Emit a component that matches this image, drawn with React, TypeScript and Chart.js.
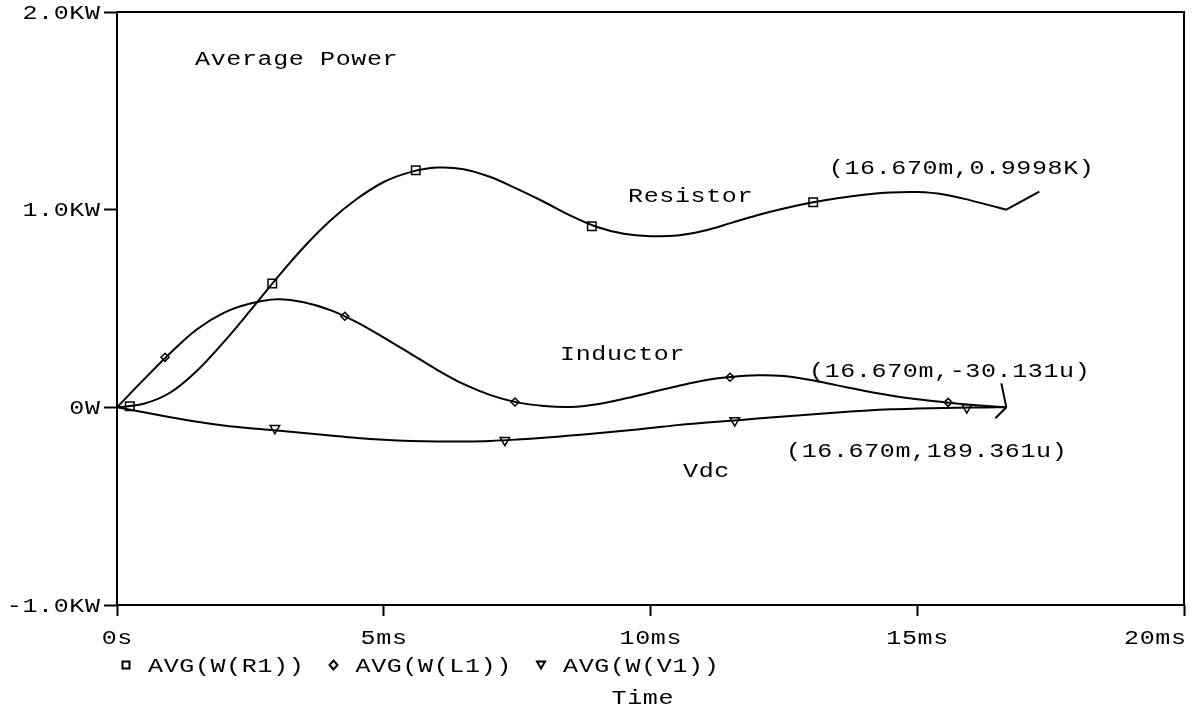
import React, { useEffect, useRef } from 'react';
import { Chart, registerables } from 'chart.js';

Chart.register(...registerables);

// Simulation time (ms) and running-average power (kW) of each element
const timeMs = [
  0, 0.5, 1, 1.5, 2, 2.5, 3, 3.5, 4, 4.5, 5, 5.5, 6, 6.5, 7, 7.5, 8, 8.5, 9, 9.5,
  10, 10.5, 11, 11.5, 12, 12.5, 13, 13.5, 14, 14.5, 15, 15.5, 16, 16.5, 16.67,
];
const resistorKW = [
  0, 0.018, 0.075, 0.185, 0.33, 0.49, 0.655, 0.81, 0.945, 1.055, 1.14, 1.19, 1.213, 1.205,
  1.165, 1.105, 1.04, 0.97, 0.912, 0.878, 0.866, 0.869, 0.893, 0.932, 0.972, 1.006, 1.035,
  1.058, 1.076, 1.087, 1.089, 1.077, 1.047, 1.012, 0.9998,
];
const inductorKW = [
  0, 0.14, 0.275, 0.395, 0.478, 0.525, 0.547, 0.532, 0.492, 0.43, 0.353, 0.272, 0.19, 0.117,
  0.062, 0.025, 0.007, 0.002, 0.016, 0.043, 0.075, 0.107, 0.136, 0.153, 0.162, 0.158, 0.138,
  0.111, 0.084, 0.06, 0.041, 0.026, 0.013, 0.003, -0.00003,
];
const sourceKW = [
  0, -0.025, -0.05, -0.073, -0.092, -0.106, -0.117, -0.13, -0.143, -0.155, -0.164, -0.17,
  -0.173, -0.173, -0.17, -0.163, -0.154, -0.143, -0.131, -0.119, -0.105, -0.09, -0.078,
  -0.068, -0.057, -0.046, -0.036, -0.026, -0.017, -0.01, -0.006, -0.003, -0.001, 0, 0.000189,
];

// Trace symbols placed along each curve
const resistorMarkT = [0.24, 2.91, 5.6, 8.9, 13.05];
const resistorMarkKW = [0.006, 0.626, 1.2, 0.916, 1.038];
const inductorMarkT = [0.9, 4.27, 7.46, 11.49, 15.58];
const inductorMarkKW = [0.253, 0.461, 0.027, 0.152, 0.025];
const sourceMarkT = [2.96, 7.27, 11.58, 15.93];
const sourceMarkKW = [-0.106, -0.166, -0.067, -0.001];

const xTickLabels = ['0s', '5ms', '10ms', '15ms', '20ms'];
const yTickLabels = ['-1.0KW', '0W', '1.0KW', '2.0KW'];
const seriesLabels = ['AVG(W(R1))', 'AVG(W(L1))', 'AVG(W(V1))'];
const traceNames = ['Resistor', 'Inductor', 'Vdc'];
const endLabels = ['(16.670m,0.9998K)', '(16.670m,-30.131u)', '(16.670m,189.361u)'];
const plotTitle = 'Average Power';
const xTitle = 'Time';

const INK = '#000000';
const FONT = '20px "Liberation Mono", "Courier New", monospace';
const SCALE_X = 1.25;
const SPACING = 0.5;

type Align = 'left' | 'center' | 'right';

function textWidth(ctx: CanvasRenderingContext2D, s: string): number {
  ctx.save();
  ctx.font = FONT;
  (ctx as any).letterSpacing = SPACING + 'px';
  const w = (ctx.measureText(s).width - SPACING) * SCALE_X;
  ctx.restore();
  return w;
}

// Monospace text, widened like a plotter font; y is the visual middle of the caps
function drawText(ctx: CanvasRenderingContext2D, s: string, x: number, y: number, align: Align) {
  const w = textWidth(ctx, s);
  const left = align === 'center' ? x - w / 2 : align === 'right' ? x - w : x;
  ctx.save();
  ctx.font = FONT;
  (ctx as any).letterSpacing = SPACING + 'px';
  ctx.fillStyle = INK;
  ctx.textAlign = 'left';
  ctx.textBaseline = 'alphabetic';
  ctx.translate(left, y + 6.5);
  ctx.scale(SCALE_X, 1);
  ctx.fillText(s, 0, 0);
  ctx.restore();
}

function drawSymbol(ctx: CanvasRenderingContext2D, kind: string, x: number, y: number) {
  ctx.save();
  ctx.strokeStyle = INK;
  ctx.lineWidth = 2;
  ctx.beginPath();
  if (kind === 'rect') {
    ctx.rect(x - 3.5, y - 3.5, 7, 7);
  } else if (kind === 'rectRot') {
    ctx.moveTo(x, y - 4.5);
    ctx.lineTo(x + 4, y);
    ctx.lineTo(x, y + 4.5);
    ctx.lineTo(x - 4, y);
    ctx.closePath();
  } else {
    ctx.moveTo(x - 4, y - 3.5);
    ctx.lineTo(x + 4, y - 3.5);
    ctx.lineTo(x, y + 3.5);
    ctx.closePath();
  }
  ctx.stroke();
  ctx.restore();
}

const pairs = (xs: number[], ys: number[]) => xs.map((x, i) => ({ x, y: ys[i] }));

const decorations = {
  id: 'probeDecorations',
  afterDraw(chart: any) {
    const ctx: CanvasRenderingContext2D = chart.ctx;
    const area = chart.chartArea;
    const xs = chart.scales.x;
    const ys = chart.scales.y;

    // plot frame
    ctx.save();
    ctx.strokeStyle = INK;
    ctx.lineWidth = 2;
    ctx.strokeRect(area.left, area.top, area.right - area.left, area.bottom - area.top);
    ctx.restore();

    // axis tick labels
    ys.ticks.forEach((t: any, i: number) => {
      drawText(ctx, yTickLabels[i], area.left - 17, ys.getPixelForValue(t.value), 'right');
    });
    const canvasW = chart.width;
    xs.ticks.forEach((t: any, i: number) => {
      const s = xTickLabels[i];
      const w = textWidth(ctx, s);
      let cx = xs.getPixelForValue(t.value);
      if (cx + w / 2 > canvasW - 10) cx = canvasW - 10 - w / 2;
      drawText(ctx, s, cx, area.bottom + 32, 'center');
    });
    drawText(ctx, xTitle, (area.left + area.right) / 2 - 8, area.bottom + 92, 'center');

    // legend row
    const markSets = [3, 4, 5];
    markSets.forEach((di, i) => {
      const sx = area.left + 9 + i * 207.5;
      const ly = area.bottom + 60;
      drawSymbol(ctx, chart.data.datasets[di].pointStyle, sx, ly);
      drawText(ctx, seriesLabels[i], sx + 22, ly, 'left');
    });

    // titles and curve names
    drawText(ctx, plotTitle, area.left + 78, 58, 'left');
    drawText(ctx, traceNames[0], 628, 195, 'left');
    drawText(ctx, traceNames[1], 560, 353, 'left');
    drawText(ctx, traceNames[2], 683, 470, 'left');

    // end-point readouts with leader lines
    const last = timeMs.length - 1;
    const ends = [resistorKW[last], inductorKW[last], sourceKW[last]].map((v) => ({
      x: xs.getPixelForValue(timeMs[last]),
      y: ys.getPixelForValue(v),
    }));
    const leaders = [
      { dx: 33, dy: -18 },
      { dx: -5, dy: -24 },
      { dx: -11, dy: 11 },
    ];
    ctx.save();
    ctx.strokeStyle = INK;
    ctx.lineWidth = 2;
    ends.forEach((p, i) => {
      ctx.beginPath();
      ctx.moveTo(p.x, p.y);
      ctx.lineTo(p.x + leaders[i].dx, p.y + leaders[i].dy);
      ctx.stroke();
    });
    ctx.restore();
    drawText(ctx, endLabels[0], ends[0].x - 45, ends[0].y - 42, 'center');
    drawText(ctx, endLabels[1], ends[1].x - 57, ends[1].y - 37, 'center');
    drawText(ctx, endLabels[2], ends[2].x - 80, ends[2].y + 43, 'center');
  },
};

export default function App() {
  const canvasRef = useRef<HTMLCanvasElement | null>(null);

  useEffect(() => {
    if (!canvasRef.current) return;
    const curve = (data: { x: number; y: number }[]) => ({
      data,
      borderColor: INK,
      borderWidth: 2,
      pointRadius: 0,
      fill: false,
      tension: 0.35,
    });
    const marks = (data: { x: number; y: number }[], style: string, radius: number, rotation = 0) => ({
      data,
      showLine: false,
      pointStyle: style,
      pointRadius: radius,
      pointRotation: rotation,
      pointBorderColor: INK,
      pointBackgroundColor: 'rgba(0,0,0,0)',
      pointBorderWidth: 1.5,
      borderColor: INK,
    });

    const chart = new Chart(canvasRef.current, {
      type: 'line',
      data: {
        datasets: [
          { label: seriesLabels[0], ...curve(pairs(timeMs, resistorKW)) },
          { label: seriesLabels[1], ...curve(pairs(timeMs, inductorKW)) },
          { label: seriesLabels[2], ...curve(pairs(timeMs, sourceKW)) },
          { label: seriesLabels[0], ...marks(pairs(resistorMarkT, resistorMarkKW), 'rect', 6) },
          { label: seriesLabels[1], ...marks(pairs(inductorMarkT, inductorMarkKW), 'rectRot', 4) },
          { label: seriesLabels[2], ...marks(pairs(sourceMarkT, sourceMarkKW), 'triangle', 5.5, 180) },
        ] as any,
      },
      options: {
        animation: false,
        responsive: false,
        maintainAspectRatio: false,
        devicePixelRatio: 1,
        layout: { padding: { top: 12, right: 12, bottom: 91, left: 0 } },
        plugins: { legend: { display: false }, tooltip: { enabled: false } },
        scales: {
          x: {
            type: 'linear',
            min: 0,
            max: 20,
            ticks: { stepSize: 5, display: false },
            grid: { drawOnChartArea: false, drawTicks: true, tickLength: 11, tickColor: INK, tickWidth: 2 },
            border: { display: false },
            afterFit: (s: any) => {
              s.height = 12;
            },
          },
          y: {
            type: 'linear',
            min: -1,
            max: 2,
            ticks: { stepSize: 1, display: false },
            grid: { drawOnChartArea: false, drawTicks: true, tickLength: 13, tickColor: INK, tickWidth: 2 },
            border: { display: false },
            afterFit: (s: any) => {
              s.width = 117;
            },
          },
        },
      },
      plugins: [decorations],
    });
    return () => chart.destroy();
  }, []);

  return (
    <div style={{ position: 'absolute', left: 0, top: 0, width: 1196, height: 708, background: '#fff' }}>
      <canvas ref={canvasRef} width={1196} height={708} style={{ display: 'block' }} />
    </div>
  );
}
